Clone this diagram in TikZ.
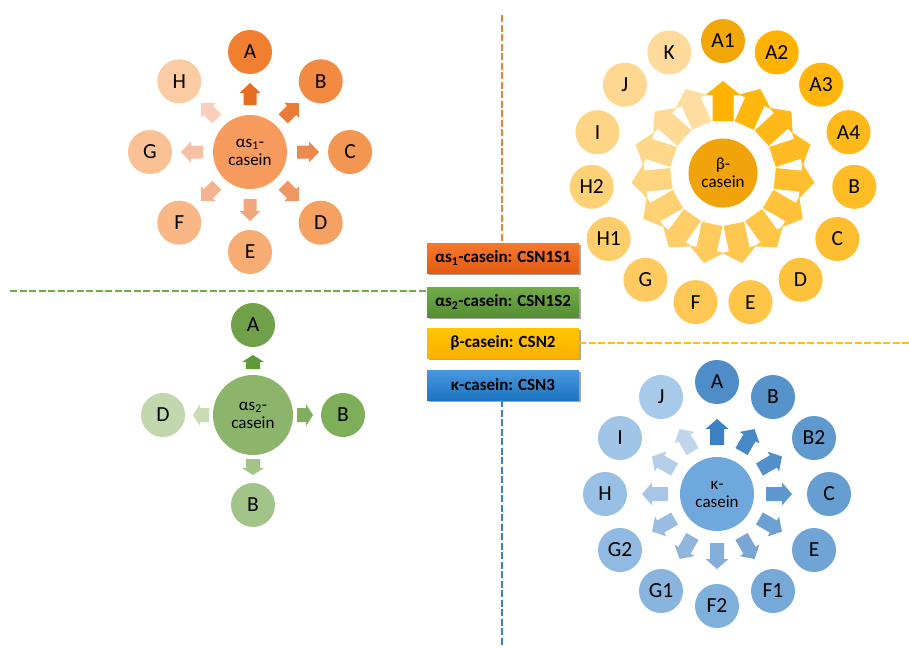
\documentclass[tikz,border=0pt]{standalone}
\usepackage{fontspec}
\setmainfont{Carlito}
\usetikzlibrary{shadows,calc}
% alpha s1 (orange)
\definecolor{oC}{RGB}{247,155,94}
\definecolor{oD}{RGB}{240,128,48}
\definecolor{oL}{RGB}{251,204,164}
\definecolor{oaD}{RGB}{229,110,33}
\definecolor{oaL}{RGB}{251,206,188}
% beta (amber)
\definecolor{bC}{RGB}{240,163,10}
\definecolor{bD}{RGB}{241,166,10}
\definecolor{bM}{RGB}{255,178,0}
\definecolor{bL}{RGB}{255,218,155}
\definecolor{baD}{RGB}{255,178,0}
\definecolor{baL}{RGB}{255,221,160}
% alpha s2 (green)
\definecolor{gC}{RGB}{141,180,107}
\definecolor{g1}{RGB}{112,160,72}
\definecolor{g2}{RGB}{125,175,90}
\definecolor{g3}{RGB}{163,196,136}
\definecolor{g4}{RGB}{193,215,174}
\definecolor{ga1}{RGB}{94,154,53}
\definecolor{ga2}{RGB}{127,175,92}
\definecolor{ga3}{RGB}{163,196,135}
\definecolor{ga4}{RGB}{200,220,182}
% kappa (blue)
\definecolor{kC}{RGB}{111,168,220}
\definecolor{kD}{RGB}{78,141,200}
\definecolor{kL}{RGB}{168,202,234}
\definecolor{kaD}{RGB}{58,128,195}
\definecolor{kaL}{RGB}{192,212,236}
% lines
\definecolor{lO}{RGB}{242,130,50}
\definecolor{lG}{RGB}{112,173,71}
\definecolor{lY}{RGB}{255,192,0}
\definecolor{lB}{RGB}{50,130,205}
\newcommand\barrow[9]{\fill[#9,shift={(#1,#2)},rotate=#3] ({#4},{-#6/2}) -- ({#5-#8},{-#6/2}) -- ({#5-#8},{-#7/2}) -- ({#5},0) -- ({#5-#8},{#7/2}) -- ({#5-#8},{#6/2}) -- ({#4},{#6/2}) -- cycle;}
\begin{document}
\begin{tikzpicture}[x=1pt,y=-1pt,
  sat/.style={circle,minimum size=44pt,inner sep=0pt,font=\fontsize{21.5}{21.5}\selectfont},
  hub/.style={circle,inner sep=0pt,align=center,font=\fontsize{17}{18}\selectfont},
  legend/.style={rectangle,minimum width=152pt,minimum height=30pt,inner sep=0pt,
    font=\fontsize{17}{17}\selectfont\bfseries,
    drop shadow={shadow xshift=1.5pt,shadow yshift=-1.5pt,opacity=0.35,fill=black}},
  sep/.style={line width=2.5pt,dash pattern=on 7pt off 2.5pt}]
\useasboundingbox (0,0) rectangle (909,648);
\fill[white] (0,0) rectangle (909,648);

% ---------- legend ----------
\node[legend,top color={rgb,255:red,245;green,120;blue,45},bottom color={rgb,255:red,226;green,92;blue,18}] (L1) at (503,258) {αs\textsubscript{1}-casein: CSN1S1};
\node[legend,top color={rgb,255:red,114;green,172;blue,74},bottom color={rgb,255:red,84;green,142;blue,50}] (L2) at (503,302) {αs\textsubscript{2}-casein: CSN1S2};
\node[legend,top color={rgb,255:red,255;green,198;blue,0},bottom color={rgb,255:red,250;green,176;blue,0}] (L3) at (503,343) {β-casein: CSN2};
\node[legend,top color={rgb,255:red,72;green,152;blue,222},bottom color={rgb,255:red,30;green,116;blue,192}] (L4) at (503,385) {κ-casein: CSN3};

% ---------- dashed separators ----------
\coordinate (oTop) at (502,15);
\coordinate (gLeft) at (10,291);
\coordinate (yRight) at (909,343);
\coordinate (bBot) at (502,646);
\draw[sep,lO] (oTop) -- (oTop |- L1.north);
\draw[sep,lG] (gLeft) -- (gLeft -| L2.west);
\draw[sep,lY] (L3.east) -- (yRight);
\draw[sep,lB] (bBot |- L4.south) -- (bBot);

% ---------- alpha s1 ----------
\node[hub,fill=oC,minimum size=74pt] (c1) at (250,152) {αs\textsubscript{1}-\\casein};
\foreach \l [count=\i from 0] in {A,B,C,D,E,F,G,H} {
  \pgfmathsetmacro\a{90-45*\i}
  \pgfmathtruncatemacro\p{100-100*\i/7}
  \colorlet{tmp}{oD!\p!oL}
  \colorlet{tmpa}{oaD!\p!oaL}
  \node[sat,fill=tmp] (s1\l) at ({250+100*cos(\a)},{152-100*sin(\a)}) {\l};
  \barrow{250}{152}{\a}{47}{69}{13}{21}{10}{tmpa}
}

% ---------- beta ----------
\node[hub,fill=bC,minimum size=69pt] (c3) at (723,173) {β-\\casein};
\foreach \l [count=\i from 0] in {A1,A2,A3,A4,B,C,D,E,F,G,H1,H2,I,J,K} {
  \pgfmathsetmacro\a{90-24*\i}
  \pgfmathtruncatemacro\p{100-100*(\i-1)/13}
  \ifnum\i=0 \colorlet{tmp}{bD}\else \colorlet{tmp}{bM!\p!bL}\fi
  \pgfmathtruncatemacro\q{100-100*\i/14}
  \colorlet{tmpa}{baD!\q!baL}
  \node[sat,fill=tmp] (s3\i) at ({723+132*cos(\a)},{173-132*sin(\a)}) {\l};
  \barrow{723}{173}{\a}{52}{92}{21}{35}{14}{tmpa}
}

% ---------- alpha s2 ----------
\node[hub,fill=gC,minimum size=80pt] (c2) at (253,415) {αs\textsubscript{2}-\\casein};
\node[sat,fill=g1] (s2a) at (253,325) {A};
\node[sat,fill=g2] (s2b) at (343,415) {B};
\node[sat,fill=g3] (s2c) at (253,505) {B};
\node[sat,fill=g4] (s2d) at (163,415) {D};
\barrow{253}{415}{90}{46}{60}{14}{22}{7}{ga1}
\barrow{253}{415}{0}{44}{60}{14}{22}{7}{ga2}
\barrow{253}{415}{-90}{44}{60}{14}{22}{7}{ga3}
\barrow{253}{415}{180}{44}{60}{14}{22}{7}{ga4}

% ---------- kappa ----------
\node[hub,fill=kC,minimum size=74pt] (c4) at (717,494) {κ-\\casein};
\foreach \l [count=\i from 0] in {A,B,B2,C,E,F1,F2,G1,G2,H,I,J} {
  \pgfmathsetmacro\a{90-30*\i}
  \pgfmathtruncatemacro\p{100-100*\i/11}
  \colorlet{tmp}{kD!\p!kL}
  \colorlet{tmpa}{kaD!\p!kaL}
  \node[sat,fill=tmp] (s4\i) at ({717+112*cos(\a)},{494-112*sin(\a)}) {\l};
  \barrow{717}{494}{\a}{49}{75}{14}{23}{10}{tmpa}
}
\end{tikzpicture}
\end{document}
